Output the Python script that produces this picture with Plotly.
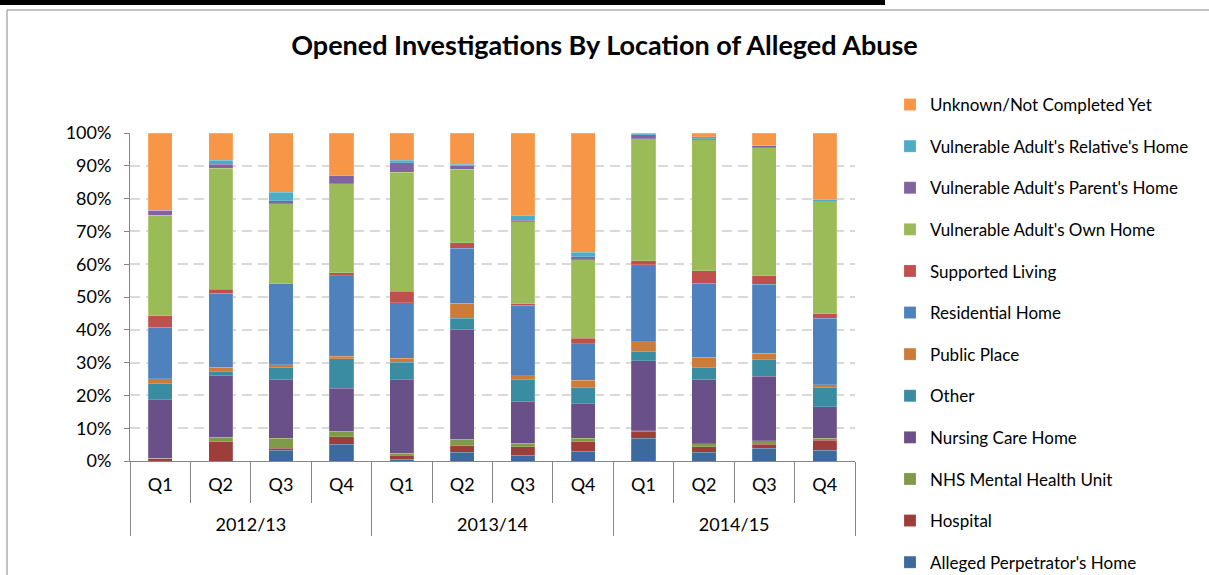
import plotly.graph_objects as go

years = ["2012/13"] * 4 + ["2013/14"] * 4 + ["2014/15"] * 4
quarters = ["Q1", "Q2", "Q3", "Q4"] * 3

series_names = [
    "Alleged Perpetrator's Home",
    "Hospital",
    "NHS Mental Health Unit",
    "Nursing Care Home",
    "Other",
    "Public Place",
    "Residential Home",
    "Supported Living",
    "Vulnerable Adult's Own Home",
    "Vulnerable Adult's Parent's Home",
    "Vulnerable Adult's Relative's Home",
    "Unknown/Not Completed Yet",
]

alleged_perp_home = [0.0, 0.0, 3.3, 5.1, 0.5, 2.6, 1.8, 2.9, 6.9, 2.6, 3.9, 3.3]
hospital = [0.8, 5.9, 0.6, 2.3, 1.2, 2.1, 2.6, 3.0, 2.1, 1.8, 1.2, 3.0]
nhs_mental_health = [0.0, 1.3, 3.0, 1.7, 0.7, 1.9, 1.0, 1.0, 0.2, 0.8, 1.1, 0.6]
nursing_care_home = [17.8, 19.0, 18.0, 13.1, 22.4, 33.5, 12.8, 10.6, 21.4, 19.8, 19.6, 9.7]
other = [5.0, 1.0, 3.6, 9.0, 5.3, 3.4, 6.6, 4.9, 2.9, 3.4, 5.0, 5.8]
public_place = [1.5, 1.4, 0.9, 0.8, 1.3, 4.6, 1.2, 2.2, 2.9, 3.2, 2.0, 0.8]
residential_home = [15.7, 22.6, 24.7, 24.5, 16.9, 16.7, 21.5, 11.2, 23.5, 22.6, 21.1, 20.3]
supported_living = [3.5, 1.2, 0.0, 0.9, 3.5, 1.8, 0.4, 1.6, 1.1, 3.8, 2.6, 1.4]
own_home = [30.7, 36.9, 24.3, 27.1, 36.3, 22.4, 25.1, 23.9, 37.3, 39.9, 39.0, 34.1]
parents_home = [1.4, 1.2, 1.0, 2.4, 2.9, 1.0, 0.4, 1.0, 1.2, 0.4, 0.8, 0.0]
relatives_home = [0.0, 1.2, 2.6, 0.0, 0.7, 0.4, 1.4, 1.3, 0.3, 0.5, 0.0, 0.6]
unknown = [23.6, 8.3, 18.0, 13.1, 8.3, 9.6, 25.2, 36.4, 0.4, 1.2, 3.7, 20.4]

series_values = [
    alleged_perp_home, hospital, nhs_mental_health, nursing_care_home, other,
    public_place, residential_home, supported_living, own_home, parents_home,
    relatives_home, unknown,
]

colors = [
    "#3D6A9C", "#9E3E3B", "#7F9A48", "#6A5088", "#3A8CA2", "#CC7B38",
    "#4F81BD", "#C0504D", "#9BBB59", "#8064A2", "#4BACC6", "#F79646",
]

FONT = "Lato, Carlito, Calibri, sans-serif"

# quarter labels get a blank second line so the year row sits lower
quarter_labels = [q + "<br> " for q in quarters]

fig = go.Figure()
for i, (name, vals, col) in enumerate(zip(series_names, series_values, colors)):
    fig.add_trace(go.Bar(
        x=[years, quarter_labels],
        y=vals,
        name=name,
        legendgroup=f"g{i}",
        legendrank=1000 - i * 10,
        marker=dict(color=col, line=dict(color="rgba(255,255,255,0.35)", width=0.5)),
    ))

fig.update_layout(
    barmode="stack",
    bargap=0.6,
    width=1209,
    height=575,
    margin=dict(l=130, r=354, t=133, b=114, autoexpand=False),
    paper_bgcolor="white",
    plot_bgcolor="white",
    font=dict(family=FONT, size=18, color="#000000"),
    title=dict(
        text="<b>Opened Investigations By Location of Alleged Abuse</b>",
        x=0.5, xref="container", y=1 - 46 / 575, yref="container",
        xanchor="center", yanchor="middle",
        font=dict(family=FONT, size=27, color="#000000"),
    ),
    legend=dict(
        traceorder="grouped",
        tracegroupgap=16.5,
        x=(890 - 130) / 725, xanchor="left",
        y=(461 - 87) / 328, yanchor="top",
        font=dict(family=FONT, size=17),
        itemwidth=30,
        maxheight=565,
        bgcolor="rgba(0,0,0,0)",
    ),
    showlegend=True,
)

fig.update_yaxes(
    range=[0, 100],
    tickvals=[0, 10, 20, 30, 40, 50, 60, 70, 80, 90, 100],
    ticktext=["0%", "10%", "20%", "30%", "40%", "50%", "60%", "70%", "80%", "90%", "100%"],
    showgrid=True,
    gridcolor="#D9D9D9",
    gridwidth=2,
    griddash="10px,6px",
    showline=True,
    linecolor="#868686",
    linewidth=1,
    ticks="outside",
    ticklen=5,
    tickcolor="#868686",
    ticklabelstandoff=9,
    zeroline=False,
    tickfont=dict(family=FONT, size=18),
)

fig.update_xaxes(
    type="multicategory",
    showline=True,
    linecolor="#868686",
    linewidth=1,
    ticks="outside",
    ticklen=41,
    tickcolor="#868686",
    ticklabelstandoff=7,
    showdividers=True,
    dividercolor="#868686",
    dividerwidth=1,
    tickfont=dict(family=FONT, size=18),
)

# chart frame and cut-off heading bar
fig.add_shape(type="rect", xref="paper", yref="paper",
              x0=(7 - 130) / 725, x1=(1220 - 130) / 725,
              y0=(461 - 600) / 328, y1=(461 - 10) / 328,
              line=dict(color="#868686", width=1), fillcolor="rgba(0,0,0,0)", layer="below")
fig.add_shape(type="rect", xref="paper", yref="paper",
              x0=(0 - 130) / 725, x1=(885 - 130) / 725,
              y0=(461 - 5) / 328, y1=(461 + 2) / 328,
              line=dict(width=0), fillcolor="#000000")

fig.write_html("out.html", config={"displayModeBar": False},
               post_script="document.body.style.margin='0';")
